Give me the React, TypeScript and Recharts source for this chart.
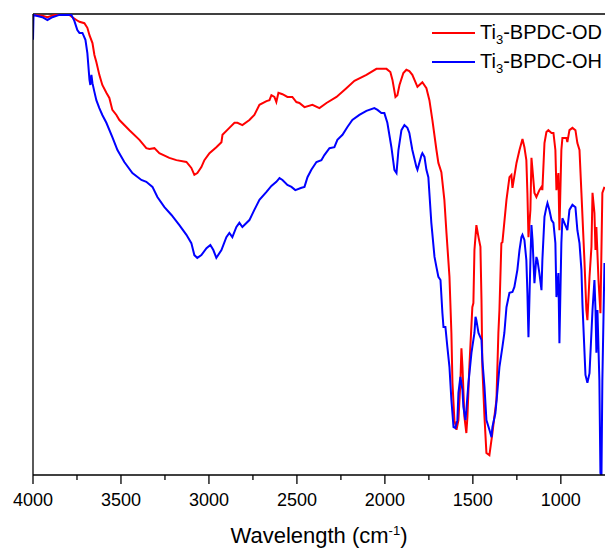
import { LineChart, Line, XAxis, YAxis, ReferenceLine, Legend, Label } from "recharts";

// FTIR spectra, [wavenumber (cm-1), transmittance (a.u., 0-100)]
const odSpectrum: [number, number][] = [
  [4000, 99.8], [3947, 99.6], [3918, 99.3], [3878, 99.8], [3793, 99.8], [3776, 99.3],
  [3753, 98.7], [3736, 98.3], [3708, 98.0], [3691, 97.0], [3679, 95.4], [3662, 93.7],
  [3651, 91.1], [3640, 89.6], [3623, 86.8], [3606, 84.6], [3583, 82.9], [3566, 81.8],
  [3549, 79.2], [3526, 78.1], [3509, 77.0], [3452, 74.8], [3395, 72.7], [3356, 70.9],
  [3338, 70.7], [3310, 70.9], [3282, 69.8], [3225, 68.8], [3185, 68.3], [3128, 67.9],
  [3100, 66.6], [3083, 65.1], [3066, 65.5], [3043, 66.8], [3026, 68.3], [2997, 69.8],
  [2958, 71.1], [2929, 72.2], [2923, 73.8], [2884, 75.3], [2855, 76.4], [2838, 76.4],
  [2810, 75.9], [2770, 77.0], [2742, 78.1], [2713, 80.3], [2673, 81.1], [2656, 81.3],
  [2645, 82.4], [2628, 82.0], [2617, 80.9], [2605, 82.9], [2582, 82.6], [2554, 82.0],
  [2526, 82.0], [2503, 80.9], [2486, 80.7], [2457, 79.8], [2412, 80.3], [2372, 79.6],
  [2332, 80.7], [2275, 82.0], [2219, 83.9], [2173, 85.5], [2105, 86.8], [2048, 88.1],
  [1991, 88.1], [1969, 87.4], [1957, 85.7], [1940, 82.0], [1929, 82.4], [1917, 84.6],
  [1895, 87.2], [1878, 87.9], [1861, 87.6], [1844, 86.8], [1815, 84.2], [1787, 85.2],
  [1764, 83.9], [1747, 81.3], [1730, 77.0], [1707, 70.5], [1696, 67.7], [1679, 65.7],
  [1662, 59.7], [1650, 52.5], [1633, 43.0], [1622, 30.8], [1616, 20.0], [1605, 11.9],
  [1593, 9.8], [1582, 11.9], [1571, 20.0], [1565, 27.5], [1559, 23.4], [1548, 12.6],
  [1537, 9.1], [1531, 12.6], [1520, 23.4], [1503, 36.4], [1497, 37.3], [1491, 48.8],
  [1480, 54.2], [1468, 51.6], [1457, 49.5], [1451, 38.0], [1446, 23.4], [1434, 12.6],
  [1423, 4.8], [1406, 4.3], [1389, 9.1], [1366, 16.3], [1355, 30.8], [1349, 35.8],
  [1338, 50.3], [1332, 50.5], [1309, 59.7], [1292, 64.6], [1281, 65.1], [1275, 62.3],
  [1252, 67.7], [1235, 70.5], [1218, 72.9], [1207, 71.1], [1196, 68.3], [1190, 61.2],
  [1184, 51.6], [1173, 57.5], [1167, 68.8], [1161, 66.2], [1150, 61.2], [1139, 60.3],
  [1122, 61.8], [1110, 62.5], [1105, 61.8], [1093, 72.0], [1082, 74.4], [1071, 74.8],
  [1053, 74.2], [1042, 74.2], [1031, 70.5], [1025, 61.8], [1014, 65.5], [1008, 53.1],
  [997, 70.5], [991, 73.1], [968, 73.1], [963, 72.2], [951, 74.8], [934, 75.3],
  [917, 74.8], [906, 72.0], [894, 70.5], [883, 61.2], [866, 46.6], [855, 35.8],
  [849, 33.6], [837, 43.0], [826, 49.5], [820, 61.2], [809, 56.8], [803, 48.8],
  [798, 53.8], [786, 42.3], [775, 35.1], [764, 61.2], [752, 62.5],
];

const ohSpectrum: [number, number][] = [
  [4000, 94.4], [3997, 99.8], [3947, 99.3], [3918, 98.7], [3890, 99.3], [3850, 99.8],
  [3782, 99.8], [3765, 98.5], [3748, 96.5], [3736, 95.9], [3719, 95.9], [3702, 94.4],
  [3691, 91.5], [3679, 85.7], [3674, 84.6], [3668, 86.8], [3662, 85.0], [3651, 83.1],
  [3640, 81.3], [3623, 79.6], [3606, 78.1], [3583, 76.4], [3549, 73.3], [3520, 70.5],
  [3481, 67.9], [3435, 65.5], [3384, 64.0], [3356, 63.6], [3321, 62.5], [3293, 60.3],
  [3253, 58.1], [3213, 56.4], [3168, 54.2], [3128, 52.1], [3100, 50.3], [3083, 47.7],
  [3066, 47.1], [3043, 47.7], [3014, 49.2], [2992, 49.9], [2975, 48.8], [2958, 47.1],
  [2929, 48.8], [2901, 51.6], [2884, 52.5], [2867, 51.6], [2844, 53.8], [2827, 54.7],
  [2810, 53.8], [2770, 55.3], [2742, 57.5], [2713, 59.7], [2673, 61.4], [2645, 62.7],
  [2617, 63.6], [2599, 64.4], [2582, 64.0], [2554, 62.9], [2531, 62.5], [2509, 61.8],
  [2474, 62.3], [2457, 62.5], [2440, 64.6], [2418, 66.2], [2389, 67.9], [2361, 68.3],
  [2344, 69.4], [2315, 70.9], [2287, 71.1], [2270, 72.7], [2241, 73.8], [2213, 75.5],
  [2185, 77.0], [2145, 78.1], [2105, 79.0], [2060, 79.6], [2042, 79.2], [2020, 78.5],
  [2003, 78.5], [1986, 76.4], [1963, 71.1], [1946, 66.2], [1934, 65.5], [1923, 70.5],
  [1906, 74.8], [1889, 75.9], [1872, 75.3], [1861, 74.2], [1844, 70.5], [1821, 66.8],
  [1815, 66.2], [1792, 69.4], [1787, 69.8], [1775, 69.0], [1764, 66.2], [1753, 64.6],
  [1736, 54.7], [1718, 47.3], [1707, 45.1], [1696, 43.0], [1684, 42.3], [1673, 35.1],
  [1667, 32.1], [1656, 32.1], [1645, 27.8], [1633, 23.4], [1622, 16.3], [1610, 10.4],
  [1599, 10.2], [1588, 11.9], [1582, 17.8], [1571, 21.3], [1559, 18.4], [1554, 14.8],
  [1542, 11.9], [1537, 14.1], [1525, 20.0], [1508, 26.5], [1503, 27.8], [1491, 30.8],
  [1485, 34.3], [1480, 33.6], [1468, 30.8], [1451, 29.3], [1446, 24.9], [1434, 19.1],
  [1423, 11.9], [1406, 9.8], [1394, 8.2], [1389, 10.4], [1372, 13.4], [1360, 18.4],
  [1349, 23.4], [1332, 27.8], [1321, 30.8], [1309, 36.4], [1292, 39.5], [1275, 39.7],
  [1264, 40.8], [1247, 44.5], [1235, 48.8], [1224, 51.6], [1218, 52.1], [1207, 51.0],
  [1196, 46.6], [1190, 39.5], [1184, 29.9], [1173, 46.6], [1167, 54.2], [1161, 51.0],
  [1150, 41.6], [1139, 47.3], [1133, 46.6], [1122, 43.8], [1110, 40.1], [1105, 46.6],
  [1093, 56.0], [1082, 58.1], [1076, 59.0], [1065, 57.5], [1053, 55.3], [1042, 54.7],
  [1031, 50.3], [1025, 38.6], [1014, 43.8], [1008, 28.6], [997, 50.3], [991, 55.7],
  [980, 54.7], [968, 53.6], [963, 53.1], [951, 57.5], [934, 58.6], [917, 58.1],
  [906, 53.1], [894, 50.3], [883, 44.5], [877, 36.9], [860, 21.7], [849, 20.0],
  [837, 22.1], [820, 35.8], [809, 42.3], [803, 35.8], [798, 26.5], [792, 35.8],
  [781, 20.6], [775, 0.4], [769, 0], [764, 20.6], [752, 46.0],
];

const majorTicks = [4000, 3500, 3000, 2500, 2000, 1500, 1000];
const minorTicks = [3750, 3250, 2750, 2250, 1750, 1250];

const seriesNames = ["OD", "OH"];
const seriesColors = ["#ff0000", "#0000ff"];

const FONT = "'Liberation Sans', Arial, sans-serif";
const X_DOMAIN: [number, number] = [749, 4000];
const MINOR_TICK_DEPTH = -1.1; // in y units, roughly 5px below the axis

const toRows = (pts: [number, number][]) => pts.map(([w, t]) => ({ w, t }));

function SpectrumLegend() {
  return (
    <div style={{ fontFamily: FONT, fontSize: 20, color: "#000" }}>
      {seriesNames.map((n, i) => (
        <div key={n} style={{ display: "flex", alignItems: "center", height: 29, whiteSpace: "nowrap" }}>
          <svg width={43} height={4} style={{ marginRight: 5 }}>
            <line x1={0} y1={2} x2={43} y2={2} stroke={seriesColors[i]} strokeWidth={2} />
          </svg>
          <span>
            Ti<span style={{ fontSize: 13, position: "relative", top: 5 }}>3</span>-BPDC-{n}
          </span>
        </div>
      ))}
    </div>
  );
}

export default function App() {
  return (
    <div style={{ position: "absolute", left: 0, top: 0, width: 605, height: 550, background: "#fff" }}>
      <LineChart width={605} height={550} margin={{ top: 14, right: 0, bottom: 0, left: 0 }}>
        <XAxis
          xAxisId="main"
          type="number"
          dataKey="w"
          domain={X_DOMAIN}
          reversed
          allowDataOverflow
          ticks={majorTicks}
          interval={0}
          tickSize={9}
          tickMargin={9}
          height={75}
          axisLine={{ stroke: "#000", strokeWidth: 1.3 }}
          tickLine={{ stroke: "#000", strokeWidth: 1.3 }}
          tick={{ fill: "#000", fontSize: 18, fontFamily: FONT }}
        >
          <Label
            content={({ viewBox }: any) => (
              <text
                x={viewBox.x + viewBox.width / 2}
                y={viewBox.y + 68}
                textAnchor="middle"
                fontFamily={FONT}
                fontSize={22}
                fill="#000"
              >
                Wavelength (cm
                <tspan dy={-8} fontSize={13}>-1</tspan>
                <tspan dy={8}>)</tspan>
              </text>
            )}
          />
        </XAxis>
        <YAxis
          type="number"
          domain={[0, 100]}
          allowDataOverflow
          width={33}
          tick={false}
          tickLine={false}
          axisLine={{ stroke: "#000", strokeWidth: 1.3 }}
        />
        <ReferenceLine xAxisId="main" y={100} stroke="#000" strokeWidth={1.3} />
        {minorTicks.map((v) => (
          <ReferenceLine
            key={v}
            xAxisId="main"
            ifOverflow="visible"
            segment={[{ x: v, y: 0 }, { x: v, y: MINOR_TICK_DEPTH }]}
            stroke="#000"
            strokeWidth={1.3}
          />
        ))}
        <Legend
          layout="vertical"
          align="center"
          verticalAlign="middle"
          content={() => <SpectrumLegend />}
          wrapperStyle={{ position: "absolute", top: 18, left: 432, width: 175 }}
        />
        <Line
          xAxisId="main"
          data={toRows(odSpectrum)}
          dataKey="t"
          stroke={seriesColors[0]}
          strokeWidth={2}
          dot={false}
          isAnimationActive={false}
        />
        <Line
          xAxisId="main"
          data={toRows(ohSpectrum)}
          dataKey="t"
          stroke={seriesColors[1]}
          strokeWidth={2}
          dot={false}
          isAnimationActive={false}
        />
      </LineChart>
    </div>
  );
}
